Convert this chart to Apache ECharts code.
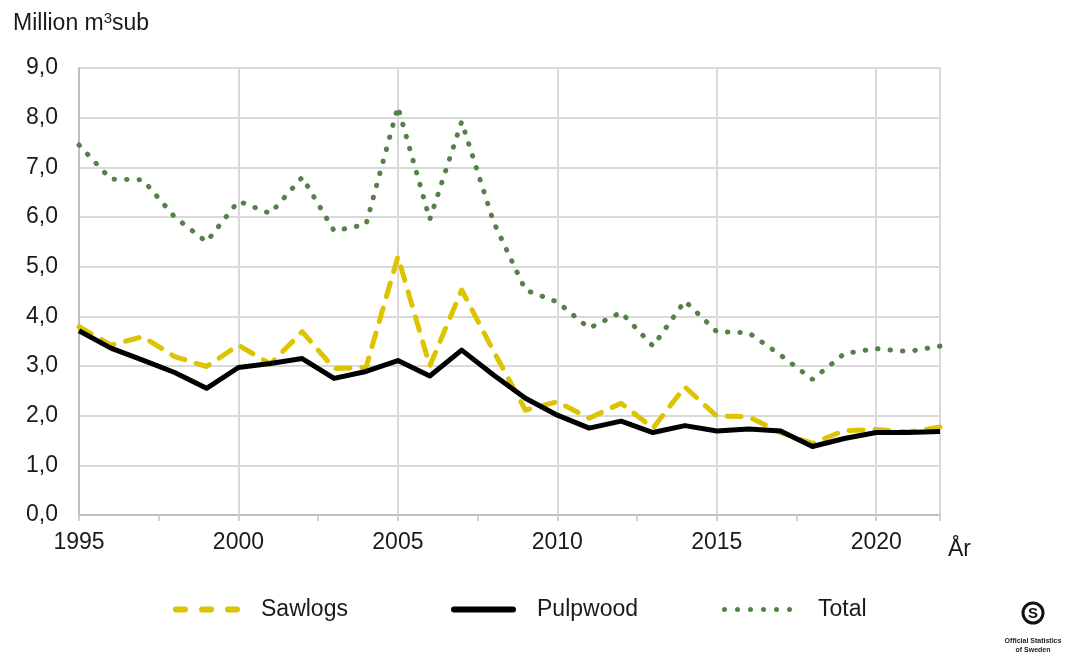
<!DOCTYPE html>
<html>
<head>
<meta charset="utf-8">
<script src="https://cdn.jsdelivr.net/npm/echarts@6/dist/echarts.min.js"></script>
<style>
  html, body { margin: 0; padding: 0; background: #fff; }
  #chart { width: 1067px; height: 655px; }
</style>
</head>
<body>
<div id="chart"></div>
<script>
// years on the x axis
const years = [1995, 1996, 1997, 1998, 1999, 2000, 2001, 2002, 2003, 2004, 2005, 2006, 2007, 2008,
  2009, 2010, 2011, 2012, 2013, 2014, 2015, 2016, 2017, 2018, 2019, 2020, 2021, 2022]

// million m3sub
const sawlogs = [3.79, 3.42, 3.59, 3.19, 2.99, 3.42, 3.04, 3.69, 2.95, 2.97, 5.2, 3.0, 4.53, 3.3,
  2.11, 2.28, 1.95, 2.25, 1.75, 2.58, 1.99, 1.98, 1.66, 1.44, 1.7, 1.72, 1.67, 1.77]
const pulpwood = [3.71, 3.36, 3.12, 2.87, 2.55, 2.97, 3.05, 3.15, 2.75, 2.89, 3.11, 2.8, 3.32, 2.82,
  2.35, 2.01, 1.75, 1.89, 1.66, 1.8, 1.69, 1.73, 1.69, 1.38, 1.54, 1.66, 1.66, 1.68]
const total = [7.45, 6.76, 6.75, 6.0, 5.5, 6.32, 6.07, 6.8, 5.72, 5.85, 8.22, 5.95, 7.92, 5.9,
  4.53, 4.29, 3.76, 4.08, 3.4, 4.31, 3.69, 3.67, 3.22, 2.73, 3.25, 3.35, 3.29, 3.4]

const pairs = vals => vals.map((v, i) => [years[i], v])

const FONT = 'Liberation Sans, Arial, sans-serif'
const TXT = '#1a1a1a'
const labelFont = { fontFamily: FONT, fontSize: 23, color: TXT }

// legend icons drawn like the Excel ones: dashes, a bar, dots
const dash = x => `M${x + 3},0H${x + 12}A3,3 0 0 1 ${x + 12},6H${x + 3}A3,3 0 0 1 ${x + 3},0Z`
const dot = cx => `M${cx - 2.5},2.5A2.5,2.5 0 1 0 ${cx + 2.5},2.5A2.5,2.5 0 1 0 ${cx - 2.5},2.5Z`
const iconSaw = 'path://' + [0, 26, 52].map(dash).join(' ')
const iconPulp = 'path://M3,0H62A3,3 0 0 1 62,6H3A3,3 0 0 1 3,0Z'
const iconTotal = 'path://' + [2.5, 15.5, 28.5, 41.5, 54.5, 67.5].map(dot).join(' ')

function legendAt (left, name, icon, w, h, gap) {
  return {
    left: left,
    top: 593,
    itemWidth: w,
    itemHeight: h,
    icon: icon,
    itemStyle: { borderWidth: 0 },
    textStyle: { fontFamily: FONT, fontSize: 23, color: TXT, padding: [0, 0, 0, gap] },
    data: [name]
  }
}

const chart = echarts.init(document.getElementById('chart'))

chart.setOption({
  animation: false,
  title: {
    left: 13,
    top: 11,
    padding: 0,
    text: 'Million m{sup|3}sub',
    textStyle: {
      fontFamily: FONT,
      fontSize: 23,
      fontWeight: 'normal',
      color: TXT,
      rich: {
        sup: { fontSize: 15, verticalAlign: 'top', padding: [0, 0, 10, 0], fontFamily: FONT, color: TXT }
      }
    }
  },
  grid: {
    left: 79,
    right: 127,
    top: 68,
    bottom: 140,
    containLabel: false
  },
  legend: [
    legendAt(168, 'Sawlogs', iconSaw, 67, 6, 16),
    legendAt(446, 'Pulpwood', iconPulp, 65, 6, 16),
    legendAt(717, 'Total', iconTotal, 70, 5, 21)
  ],
  xAxis: {
    type: 'value',
    min: 1995,
    max: 2022,
    interval: 5,
    axisLine: { show: true, lineStyle: { color: '#bfbfbf', width: 2 } },
    axisTick: { show: true, length: 6, lineStyle: { color: '#d0d0d0', width: 2 } },
    minorTick: { show: true, splitNumber: 2, length: 6, lineStyle: { color: '#d0d0d0', width: 2 } },
    splitLine: { show: true, lineStyle: { color: '#d9d9d9', width: 2 } },
    axisLabel: Object.assign({
      margin: 16,
      showMaxLabel: false,
      formatter: v => (v % 5 === 0 ? String(v) : '')
    }, labelFont)
  },
  yAxis: {
    type: 'value',
    min: 0,
    max: 9,
    interval: 1,
    axisLine: { show: true, lineStyle: { color: '#bfbfbf', width: 2 } },
    axisTick: { show: false },
    splitLine: { show: true, lineStyle: { color: '#d9d9d9', width: 2 } },
    axisLabel: Object.assign({
      margin: 21,
      formatter: v => v.toFixed(1).replace('.', ',')
    }, labelFont)
  },
  graphic: [
    {
      type: 'text',
      x: 948,
      y: 538,
      style: { text: 'År', font: '23px "Liberation Sans", Arial, sans-serif', fill: TXT, verticalAlign: 'top' }
    },
    // Official Statistics of Sweden mark
    {
      type: 'circle',
      shape: { cx: 1033, cy: 613, r: 10 },
      style: { fill: 'none', stroke: '#111', lineWidth: 3 }
    },
    {
      type: 'text',
      x: 1033,
      y: 614,
      style: { text: 'S', font: 'bold 15px "Liberation Sans", Arial, sans-serif', fill: '#111', align: 'center', verticalAlign: 'middle' }
    },
    {
      type: 'text',
      x: 1033,
      y: 637,
      style: { text: 'Official Statistics\nof Sweden', font: 'bold 7px "Liberation Sans", Arial, sans-serif', fill: '#222', align: 'center', lineHeight: 9 }
    }
  ],
  series: [
    {
      name: 'Sawlogs',
      type: 'line',
      symbol: 'none',
      data: pairs(sawlogs),
      z: 3,
      lineStyle: { color: '#dcc400', width: 5, type: [14, 12], cap: 'round', join: 'round' },
      itemStyle: { color: '#dcc400', borderWidth: 0 }
    },
    {
      name: 'Pulpwood',
      type: 'line',
      symbol: 'none',
      data: pairs(pulpwood),
      z: 4,
      lineStyle: { color: '#000000', width: 5, join: 'round' },
      itemStyle: { color: '#000000', borderWidth: 0 }
    },
    {
      name: 'Total',
      type: 'line',
      symbol: 'none',
      data: pairs(total),
      z: 2,
      lineStyle: { color: '#56804a', width: 5, type: [0.5, 12], cap: 'round' },
      itemStyle: { color: '#56804a', borderWidth: 0 }
    }
  ]
})
</script>
</body>
</html>
